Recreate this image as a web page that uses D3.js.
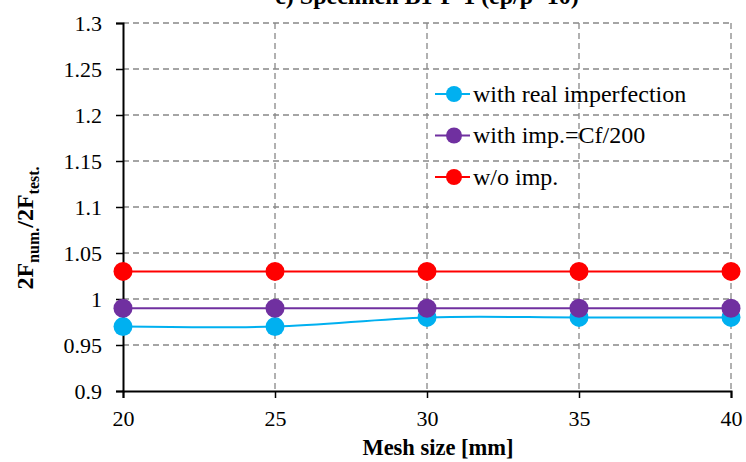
<!DOCTYPE html>
<html>
<head>
<meta charset="utf-8">
<script src="https://cdn.jsdelivr.net/npm/d3@7"></script>
</head>
<body style="margin:0">
<div id="chart"></div>
<script>
var mesh_sizes = [20, 25, 30, 35, 40];
var real_imp = [0.97, 0.97, 0.98, 0.98, 0.98];
var imp_cf200 = [0.99, 0.99, 0.99, 0.99, 0.99];
var no_imp = [1.03, 1.03, 1.03, 1.03, 1.03];
var y_ticks = [0.9, 0.95, 1, 1.05, 1.1, 1.15, 1.2, 1.25, 1.3];
var series_names = ["with real imperfection", "with imp.=Cf/200", "w/o imp."];
var series_colors = ["#00B0F0", "#7030A0", "#FF0000"];

var width = 746, height = 462;
var serif = "Liberation Serif";

var svg = d3.select("#chart").append("svg")
    .attr("width", width)
    .attr("height", height);

var x = d3.scaleLinear().domain([20, 40]).range([123, 731]);
var y = d3.scaleLinear().domain([0.9, 1.3]).range([391, 23]);

// title, mostly clipped at top like the original
svg.append("text")
    .attr("x", 427).attr("y", 4)
    .attr("text-anchor", "middle")
    .attr("font-family", serif)
    .attr("font-size", 24).attr("font-weight", "bold")
    .text("c) Specimen B1-P-1 (ep/p=10)");

// grid
svg.append("g").selectAll("line")
    .data(y_ticks.filter(function(d) { return d > 0.9; }))
  .enter().append("line")
    .attr("x1", x(20)).attr("x2", x(40))
    .attr("y1", function(d) { return y(d); })
    .attr("y2", function(d) { return y(d); })
    .attr("stroke", "#888").attr("stroke-width", 1.3)
    .attr("stroke-dasharray", "6,4");

svg.append("g").selectAll("line")
    .data(mesh_sizes.slice(1))
  .enter().append("line")
    .attr("x1", function(d) { return x(d); })
    .attr("x2", function(d) { return x(d); })
    .attr("y1", y(1.3)).attr("y2", y(0.9))
    .attr("stroke", "#888").attr("stroke-width", 1.3)
    .attr("stroke-dasharray", "6,4");

// axes
var y_axis = svg.append("g")
    .attr("transform", "translate(" + x(20) + ",0)")
    .call(d3.axisLeft(y).tickValues(y_ticks).tickSize(7).tickPadding(14)
      .tickFormat(function(d) { return String(+d.toFixed(2)); }));
var x_axis = svg.append("g")
    .attr("transform", "translate(0," + y(0.9) + ")")
    .call(d3.axisBottom(x).tickValues(mesh_sizes).tickSize(7).tickPadding(12));

[y_axis, x_axis].forEach(function(a) {
  a.attr("font-family", serif).attr("font-size", 22);
  a.select(".domain").attr("stroke", "#000").attr("stroke-width", 2);
  a.selectAll(".tick line").attr("stroke", "#000").attr("stroke-width", 1.5);
  a.selectAll(".tick text").attr("fill", "#000");
});
y_axis.selectAll(".tick text").attr("dy", "0.35em");

// axis titles
svg.append("text")
    .attr("x", 438).attr("y", 455)
    .attr("text-anchor", "middle")
    .attr("font-family", serif)
    .attr("font-size", 22.5).attr("font-weight", "bold")
    .text("Mesh size [mm]");

var y_title = svg.append("text")
    .attr("transform", "translate(33," + 228 + ") rotate(-90)")
    .attr("text-anchor", "middle")
    .attr("font-family", serif)
    .attr("font-size", 24).attr("font-weight", "bold");
y_title.append("tspan").text("2F");
y_title.append("tspan").attr("font-size", 16).attr("dy", 6).text("num.");
y_title.append("tspan").attr("dy", -6).text("/2F");
y_title.append("tspan").attr("font-size", 16).attr("dy", 6).text("test.");

// series
var all_series = [real_imp, imp_cf200, no_imp];
var line = d3.line()
    .x(function(d, i) { return x(mesh_sizes[i]); })
    .y(function(d) { return y(d); })
    .curve(d3.curveCatmullRom.alpha(0.5));

all_series.forEach(function(values, k) {
  svg.append("path")
      .datum(values)
      .attr("fill", "none")
      .attr("stroke", series_colors[k])
      .attr("stroke-width", 2)
      .attr("d", line);
});
all_series.forEach(function(values, k) {
  svg.append("g").selectAll("circle")
      .data(values)
    .enter().append("circle")
      .attr("cx", function(d, i) { return x(mesh_sizes[i]); })
      .attr("cy", function(d) { return y(d); })
      .attr("r", 9.5)
      .attr("fill", series_colors[k]);
});

// legend
var legend = svg.append("g").attr("transform", "translate(435,94)");
series_names.forEach(function(name, k) {
  var row = legend.append("g").attr("transform", "translate(0," + (k * 41.5) + ")");
  row.append("line")
      .attr("x1", 0).attr("x2", 35)
      .attr("stroke", series_colors[k]).attr("stroke-width", 2);
  row.append("circle")
      .attr("cx", 19).attr("r", 8)
      .attr("fill", series_colors[k]);
  row.append("text")
      .attr("x", 38).attr("dy", "0.33em")
      .attr("font-family", serif)
      .attr("font-size", 24)
      .text(name);
});
</script>
</body>
</html>
